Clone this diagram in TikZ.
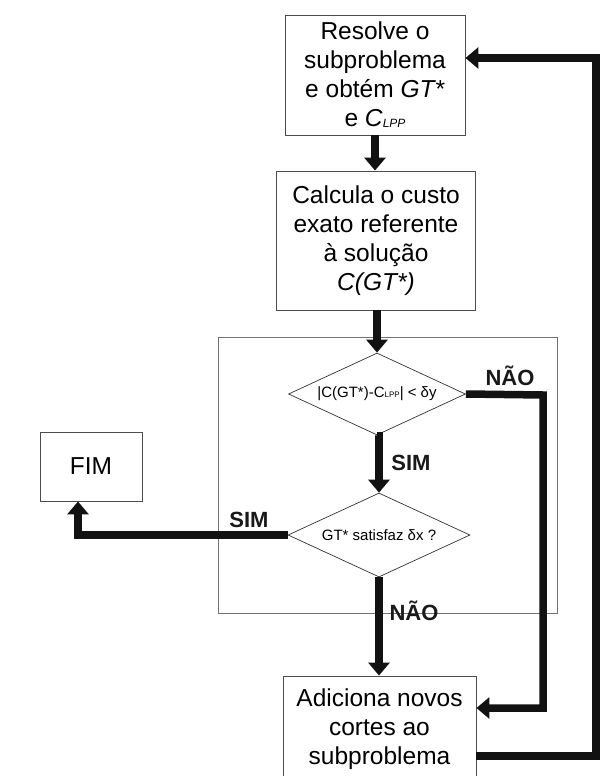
\documentclass[tikz,border=0pt]{standalone}
\usepackage{fontspec}
\setmainfont{Liberation Sans}
\usetikzlibrary{arrows.meta,shapes.geometric}

\begin{document}
\begin{tikzpicture}[x=1pt,y=-1pt,
  box/.style={draw=black!70, line width=0.9pt, fill=white, align=center,
    font=\fontsize{24.5}{28.8}\selectfont, inner sep=0pt},
  decision/.style={diamond, draw=black!80, line width=0.7pt, fill=white,
    align=center, inner sep=0pt, aspect=2.16,
    font=\fontsize{15}{17}\selectfont},
  frame/.style={draw=black!55, line width=0.9pt, minimum width=339pt,
    minimum height=276pt, inner sep=0pt},
  flow/.style={draw=black!93, line width=7.5pt, line join=miter,
    -{Triangle[width=21pt,length=13pt]}},
  answer/.style={font=\fontsize{22}{22}\selectfont\bfseries, anchor=base,
    text=black!90, inner sep=0pt}]

\useasboundingbox (0,0) rectangle (600,776);

% grouping frame around the two tests
\node[frame] (grp) at (387.5,475) {};

% process boxes
\node[box, minimum width=180pt, minimum height=120pt] (solve) at (375,75)
  {Resolve o\\subproblema\\e obtém \textit{GT*}\\e \textit{C}\raisebox{-1.5pt}{\fontsize{12}{12}\selectfont\itshape LPP}};
\node[box, minimum width=199pt, minimum height=139pt] (cost) at (376,240.5)
  {Calcula o custo\\exato referente\\à solução\\\textit{C(GT*)}};
\node[box, minimum width=193pt, minimum height=106pt] (cuts) at (379.5,729)
  {Adiciona novos\\cortes ao\\subproblema};
\node[box, minimum width=102pt, minimum height=69pt] (fim) at (91,466.5) {FIM};

% decisions
\node[decision, minimum width=177pt, minimum height=82pt] (gap) at (377,394)
  {|C(GT*)-C{\fontsize{8}{8}\selectfont LPP}| < δy};
\node[decision, minimum width=182pt, minimum height=84pt] (feas) at (379,535)
  {GT* satisfaz δx ?};

% main flow
\draw[flow] (solve.south) -- (solve.south |- cost.north);
\draw[flow] (gap.north |- cost.south) -- (gap.north);
\draw[flow] (gap.south) -- (gap.south -| feas.north) -- (feas.north);
\draw[flow] (feas.south) -- (feas.south |- cuts.north);

% branches
\coordinate (noright) at (543,395);
\draw[flow] (gap.east) -- (noright) |- ([yshift=21pt]cuts.east);
\draw[flow] (feas.west) -| ([xshift=-13pt]fim.south);

% loop back to the subproblem
\coordinate (back) at (596,400);
\draw[flow] ([yshift=-27pt]cuts.east) -| (back) |- ([yshift=17pt]solve.east);

% branch labels
\node[answer] (l1) at (510,385) {NÃO};
\node[answer] (l2) at (411,470) {SIM};
\node[answer] (l3) at (249,527) {SIM};
\node[answer] (l4) at (414,620) {NÃO};
\end{tikzpicture}
\end{document}
